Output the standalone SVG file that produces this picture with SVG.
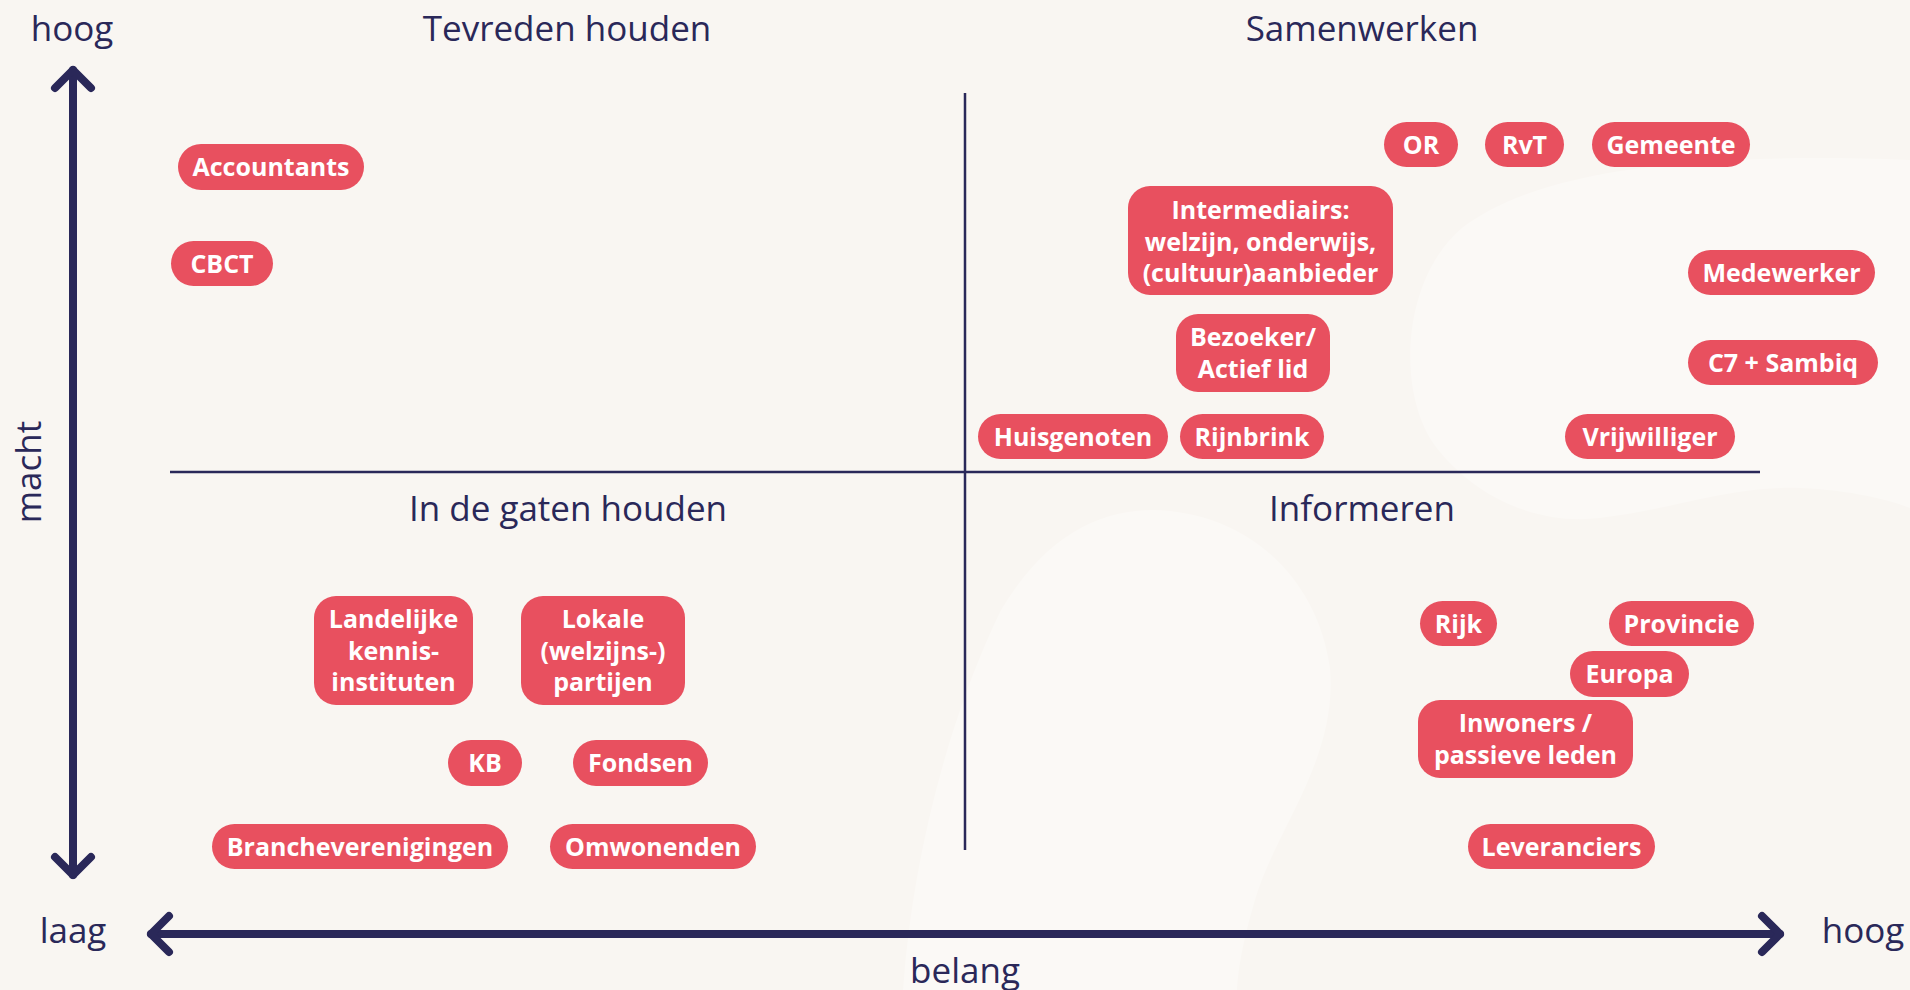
<svg xmlns="http://www.w3.org/2000/svg" width="1910" height="990" viewBox="0 0 1910 990">
  <defs>
    <style>
      .bg { fill: #F9F6F2; }
      .blob { fill: #FBF9F6; }
      .pill { fill: #E8505F; }
      .pt { font-family: "Open Sans", "Noto Sans", "Liberation Sans", sans-serif; font-weight: 700; font-size: 25px; fill: #FFFFFF; text-anchor: middle; }
      .title { font-family: "Open Sans", "Noto Sans", "Liberation Sans", sans-serif; font-weight: 400; font-size: 35px; fill: #2A2859; text-anchor: middle; }
      .axis { stroke: #2A2859; stroke-width: 8; fill: none; stroke-linecap: round; }
      .grid { stroke: #2A2859; stroke-width: 2.5; fill: none; }
    </style>
    <marker id="chev" viewBox="-25 -25 50 50" markerWidth="50" markerHeight="50" markerUnits="userSpaceOnUse" refX="0" refY="0" orient="auto-start-reverse">
      <path d="M-18,-18 L0,0 L-18,18" fill="none" stroke="#2A2859" stroke-width="8" stroke-linecap="round" stroke-linejoin="round"/>
    </marker>
  </defs>

  <rect class="bg" x="0" y="0" width="1910" height="990"/>
  <g id="background">
    <path class="blob" d="M1910,160 C1700,152 1540,168 1462,228 C1400,280 1395,400 1440,452 C1480,500 1540,525 1600,518 C1680,508 1730,486 1800,488 C1850,490 1890,500 1910,508 Z"/>
    <path class="blob" d="M903,990 C912,860 948,720 1000,612 C1045,535 1100,510 1153,510 C1250,512 1318,580 1330,668 C1338,760 1275,830 1255,900 C1243,940 1238,970 1237,990 Z"/>
  </g>

  <g id="connectors">
    <line class="grid" x1="965" y1="93" x2="965" y2="850"/>
    <line class="grid" x1="170" y1="472" x2="1760" y2="472"/>
    <line class="axis" x1="73" y1="70" x2="73" y2="875" marker-start="url(#chev)" marker-end="url(#chev)"/>
    <line class="axis" x1="151" y1="934" x2="1780" y2="934" marker-start="url(#chev)" marker-end="url(#chev)"/>
  </g>

  <g id="labels">
    <text class="title" x="72" y="41">hoog</text>
    <text class="title" x="73" y="943">laag</text>
    <text class="title" x="1863" y="943">hoog</text>
    <text class="title" x="965" y="983">belang</text>
    <text class="title" transform="translate(41,472) rotate(-90)">macht</text>
    <text class="title" x="567" y="41">Tevreden houden</text>
    <text class="title" x="1362" y="41">Samenwerken</text>
    <text class="title" x="568" y="521">In de gaten houden</text>
    <text class="title" x="1362" y="521">Informeren</text>
  </g>

  <g id="accountants"><rect class="pill" x="178" y="144" width="186" height="46" rx="23"/><text class="pt" x="271" y="176">Accountants</text></g>
  <g id="cbct"><rect class="pill" x="171" y="241" width="102" height="45" rx="22.5"/><text class="pt" x="222" y="272.5">CBCT</text></g>
  <g id="or"><rect class="pill" x="1384" y="122" width="74" height="45" rx="22.5"/><text class="pt" x="1421" y="153.5">OR</text></g>
  <g id="rvt"><rect class="pill" x="1485" y="122" width="79" height="45" rx="22.5"/><text class="pt" x="1524.5" y="153.5">RvT</text></g>
  <g id="gemeente"><rect class="pill" x="1592" y="122" width="158" height="45" rx="22.5"/><text class="pt" x="1671" y="153.5">Gemeente</text></g>
  <g id="intermediairs"><rect class="pill" x="1128" y="186" width="265" height="109" rx="22"/><text class="pt" x="1260.5" y="219">Intermediairs:</text><text class="pt" x="1260.5" y="250.5">welzijn, onderwijs,</text><text class="pt" x="1260.5" y="282">(cultuur)aanbieder</text></g>
  <g id="medewerker"><rect class="pill" x="1688" y="250" width="187" height="45" rx="22.5"/><text class="pt" x="1781.5" y="281.5">Medewerker</text></g>
  <g id="bezoeker"><rect class="pill" x="1176" y="314" width="154" height="78" rx="22"/><text class="pt" x="1253" y="346">Bezoeker/</text><text class="pt" x="1253" y="378">Actief lid</text></g>
  <g id="c7sambiq"><rect class="pill" x="1688" y="340" width="190" height="45" rx="22.5"/><text class="pt" x="1783" y="371.5">C7 + Sambiq</text></g>
  <g id="huisgenoten"><rect class="pill" x="978" y="414" width="190" height="45" rx="22.5"/><text class="pt" x="1073" y="445.5">Huisgenoten</text></g>
  <g id="rijnbrink"><rect class="pill" x="1180" y="414" width="144" height="45" rx="22.5"/><text class="pt" x="1252" y="445.5">Rijnbrink</text></g>
  <g id="vrijwilliger"><rect class="pill" x="1565" y="414" width="170" height="45" rx="22.5"/><text class="pt" x="1650" y="445.5">Vrijwilliger</text></g>
  <g id="landelijke"><rect class="pill" x="314" y="596" width="159" height="109" rx="22"/><text class="pt" x="393.5" y="628">Landelijke</text><text class="pt" x="393.5" y="659.5">kennis-</text><text class="pt" x="393.5" y="691">instituten</text></g>
  <g id="lokale"><rect class="pill" x="521" y="596" width="164" height="109" rx="22"/><text class="pt" x="603" y="628">Lokale</text><text class="pt" x="603" y="659.5">(welzijns-)</text><text class="pt" x="603" y="691">partijen</text></g>
  <g id="kb"><rect class="pill" x="448" y="740" width="74" height="46" rx="23"/><text class="pt" x="485" y="772">KB</text></g>
  <g id="fondsen"><rect class="pill" x="573" y="740" width="135" height="46" rx="23"/><text class="pt" x="640.5" y="772">Fondsen</text></g>
  <g id="brancheverenigingen"><rect class="pill" x="212" y="824" width="296" height="45" rx="22.5"/><text class="pt" x="360" y="855.5">Brancheverenigingen</text></g>
  <g id="omwonenden"><rect class="pill" x="550" y="824" width="206" height="45" rx="22.5"/><text class="pt" x="653" y="855.5">Omwonenden</text></g>
  <g id="rijk"><rect class="pill" x="1420" y="601" width="77" height="45" rx="22.5"/><text class="pt" x="1458.5" y="632.5">Rijk</text></g>
  <g id="provincie"><rect class="pill" x="1609" y="601" width="145" height="45" rx="22.5"/><text class="pt" x="1681.5" y="632.5">Provincie</text></g>
  <g id="europa"><rect class="pill" x="1570" y="651" width="119" height="46" rx="23"/><text class="pt" x="1629.5" y="683">Europa</text></g>
  <g id="inwoners"><rect class="pill" x="1418" y="700" width="215" height="78" rx="22"/><text class="pt" x="1525.5" y="732">Inwoners /</text><text class="pt" x="1525.5" y="764">passieve leden</text></g>
  <g id="leveranciers"><rect class="pill" x="1468" y="824" width="187" height="45" rx="22.5"/><text class="pt" x="1561.5" y="855.5">Leveranciers</text></g>
</svg>
